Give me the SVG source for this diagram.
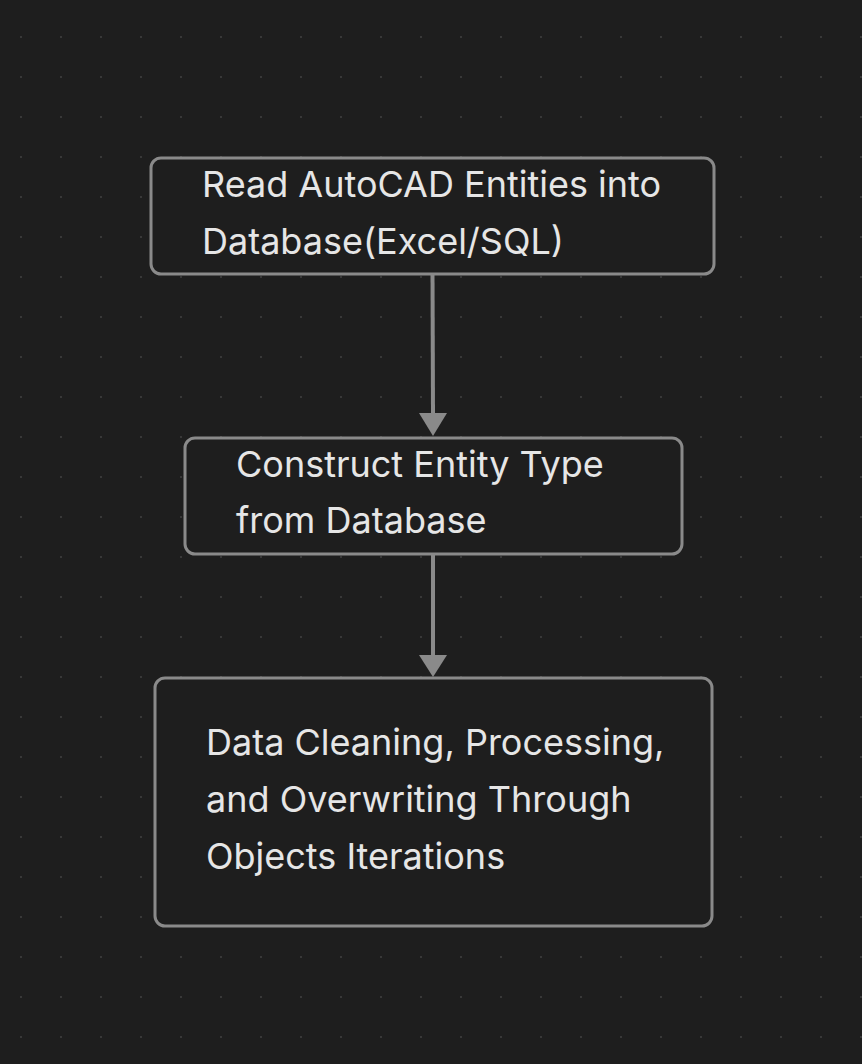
<svg xmlns="http://www.w3.org/2000/svg" width="862" height="1064" viewBox="0 0 862 1064">
<defs>
<pattern id="dots" x="0" y="0" width="40" height="40" patternUnits="userSpaceOnUse">
<rect x="20" y="36" width="2" height="2" fill="#383838"/>
</pattern>
<style>
.node rect{fill:#1e1e1e;stroke:#8a8a8a;stroke-width:3}
.node text{font-family:Inter,"Liberation Sans",sans-serif;font-size:36px;fill:#e6e6e6}
.edge{stroke:#8a8a8a;stroke-width:4;fill:none}
.head{fill:#8a8a8a}
</style>
</defs>
<rect width="862" height="1064" fill="#1e1e1e"/>
<rect width="862" height="1064" fill="url(#dots)"/>
<g id="connectors">
<path class="edge" d="M432.5,274 L433,413"/>
<path class="head" d="M419,413 L447,413 L433,436 z"/>
<path class="edge" d="M433,555 L433,655"/>
<path class="head" d="M419,655 L447,655 L433,677 z"/>
</g>
<g id="node1" class="node">
<rect x="151" y="158" width="563" height="116" rx="10"/>
<text x="202" y="197">Read AutoCAD Entities into</text>
<text x="202" y="254">Database(Excel/SQL)</text>
</g>
<g id="node2" class="node">
<rect x="185" y="438" width="497" height="116" rx="10"/>
<text x="236" y="477">Construct Entity Type</text>
<text x="236" y="533">from Database</text>
</g>
<g id="node3" class="node">
<rect x="155" y="678" width="557" height="248" rx="10"/>
<text x="206" y="755">Data Cleaning, Processing,</text>
<text x="206" y="812">and Overwriting Through</text>
<text x="206" y="869">Objects Iterations</text>
</g>
</svg>
